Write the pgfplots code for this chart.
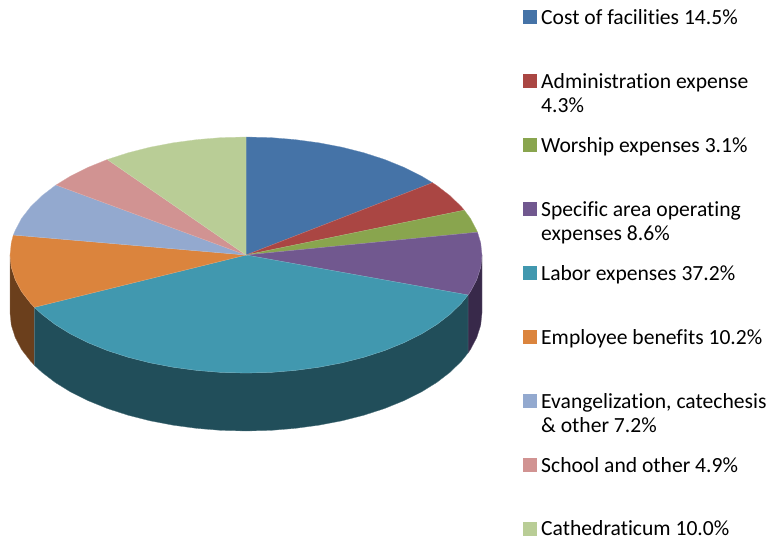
\documentclass[border=0pt]{standalone}
\usepackage{pgfplots}
\pgfplotsset{compat=1.18}
\usepackage{fontspec}
\setmainfont[Ligatures=NoCommon]{Carlito}
\definecolor{cA}{HTML}{4573A7}
\definecolor{cB}{HTML}{AA4643}
\definecolor{cC}{HTML}{89A54E}
\definecolor{cD}{HTML}{71588F}
\definecolor{cE}{HTML}{4198AF}
\definecolor{cF}{HTML}{DB843D}
\definecolor{cG}{HTML}{93A9CF}
\definecolor{cH}{HTML}{D19392}
\definecolor{cI}{HTML}{B9CD96}
\definecolor{dD}{HTML}{38294A}
\definecolor{dE}{HTML}{214E5A}
\definecolor{dF}{HTML}{6B3F1C}
\pgfplotsset{slice/.style={fill=#1,draw=#1!75!white,line width=0.3pt,forget plot},
  key/.style={fill=#1,draw=none,forget plot}}
\tikzset{lab/.style={anchor=base west,inner sep=0pt,font=\fontsize{21.6}{24}\selectfont,text=black}}
\begin{document}
\begin{tikzpicture}[x=1pt,y=1pt]
\path[use as bounding box] (0,0) rectangle (772,540);
\begin{axis}[at={(0,0)},anchor=south west,width=772pt,height=540pt,scale only axis,
  xmin=0,xmax=772,ymin=0,ymax=540,y dir=reverse,axis lines=none,clip=false]
% side walls
\addplot[slice=dD] coordinates {(482,255)(480.7,267.3)(476.8,279.5)(470.5,291.5)(468,295)(468,353)(470.5,349.5)(476.8,337.5)(480.7,325.3)(482,313)} --cycle;
\addplot[slice=dF] coordinates {(34.4,307.3)(30.4,303)(21.5,291.5)(15.2,279.5)(11.3,267.3)(10,255)(10,313)(11.3,325.3)(15.2,337.5)(21.5,349.5)(30.4,361)(34.4,365.3)} --cycle;
\addplot[slice=dE] coordinates {(468,295)(461.6,303)(450.4,314)(436.9,324.4)(421.4,334)(403.9,342.7)(384.7,350.5)(364,357.2)(342,362.8)(318.9,367.2)(295.1,370.4)(270.7,372.4)(246,373)(221.3,372.4)(196.9,370.4)(173.1,367.2)(150,362.8)(128,357.2)(107.3,350.5)(88.1,342.7)(70.6,334)(55.1,324.4)(41.6,314)(34.4,307.3)(34.4,365.3)(41.6,372)(55.1,382.4)(70.6,392)(88.1,400.7)(107.3,408.5)(128,415.2)(150,420.8)(173.1,425.2)(196.9,428.4)(221.3,430.4)(246,431)(270.7,430.4)(295.1,428.4)(318.9,425.2)(342,420.8)(364,415.2)(384.7,408.5)(403.9,400.7)(421.4,392)(436.9,382.4)(450.4,372)(461.6,361)(468,353)} --cycle;
% top slices
\addplot[slice=cA] coordinates {(246,255)(246,137)(270.7,137.6)(295.1,139.6)(318.9,142.8)(342,147.2)(364,152.8)(384.7,159.5)(403.9,167.3)(421.4,176)(432.5,182.7)} --cycle;
\addplot[slice=cB] coordinates {(246,255)(432.5,182.7)(436.9,185.6)(450.4,196)(461.6,207)(464.3,210.2)} --cycle;
\addplot[slice=cC] coordinates {(246,255)(464.3,210.2)(470.5,218.5)(476.8,230.5)(477.5,232.2)} --cycle;
\addplot[slice=cD] coordinates {(246,255)(477.5,232.2)(480.7,242.7)(482,255)(480.7,267.3)(476.8,279.5)(470.5,291.5)(468,295)} --cycle;
\addplot[slice=cE] coordinates {(246,255)(468,295)(461.6,303)(450.4,314)(436.9,324.4)(421.4,334)(403.9,342.7)(384.7,350.5)(364,357.2)(342,362.8)(318.9,367.2)(295.1,370.4)(270.7,372.4)(246,373)(221.3,372.4)(196.9,370.4)(173.1,367.2)(150,362.8)(128,357.2)(107.3,350.5)(88.1,342.7)(70.6,334)(55.1,324.4)(41.6,314)(34.4,307.3)} --cycle;
\addplot[slice=cF] coordinates {(246,255)(34.4,307.3)(30.4,303)(21.5,291.5)(15.2,279.5)(11.3,267.3)(10,255)(11.3,242.7)(13.3,235)} --cycle;
\addplot[slice=cG] coordinates {(246,255)(13.3,235)(15.2,230.5)(21.5,218.5)(30.4,207)(41.6,196)(55.1,185.6)(56,185)} --cycle;
\addplot[slice=cH] coordinates {(246,255)(56,185)(70.6,176)(88.1,167.3)(107.3,159.5)} --cycle;
\addplot[slice=cI] coordinates {(246,255)(107.3,159.5)(128,152.8)(150,147.2)(173.1,142.8)(196.9,139.6)(221.3,137.6)(246,137)} --cycle;
% legend keys
\addplot[key=cA] coordinates {(523,10)(537,10)(537,24)(523,24)} --cycle;
\addplot[key=cB] coordinates {(523,74)(537,74)(537,88)(523,88)} --cycle;
\addplot[key=cC] coordinates {(523,138)(537,138)(537,152)(523,152)} --cycle;
\addplot[key=cD] coordinates {(523,202)(537,202)(537,216)(523,216)} --cycle;
\addplot[key=cE] coordinates {(523,266)(537,266)(537,280)(523,280)} --cycle;
\addplot[key=cF] coordinates {(523,330)(537,330)(537,344)(523,344)} --cycle;
\addplot[key=cG] coordinates {(523,394)(537,394)(537,408)(523,408)} --cycle;
\addplot[key=cH] coordinates {(523,458)(537,458)(537,472)(523,472)} --cycle;
\addplot[key=cI] coordinates {(523,522)(537,522)(537,536)(523,536)} --cycle;
% legend text
\node[lab] at (axis cs:541,24.5) {Cost of facilities 14.5\%};
\node[lab] at (axis cs:541,88.5) {Administration expense};
\node[lab] at (axis cs:541,112.5) {4.3\%};
\node[lab] at (axis cs:541,152.5) {Worship expenses 3.1\%};
\node[lab] at (axis cs:541,216.5) {Specific area operating};
\node[lab] at (axis cs:541,240.5) {expenses 8.6\%};
\node[lab] at (axis cs:541,280.5) {Labor expenses 37.2\%};
\node[lab] at (axis cs:541,344.5) {Employee benefits 10.2\%};
\node[lab] at (axis cs:541,408.5) {Evangelization, catechesis};
\node[lab] at (axis cs:541,432.5) {\& other 7.2\%};
\node[lab] at (axis cs:541,472.5) {School and other 4.9\%};
\node[lab] at (axis cs:541,535) {Cathedraticum 10.0\%};
\end{axis}
\end{tikzpicture}
\end{document}
